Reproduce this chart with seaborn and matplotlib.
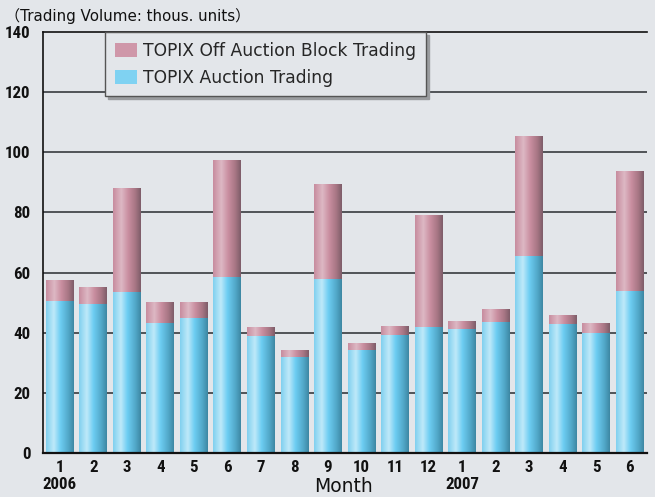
import numpy as np
import pandas as pd
import matplotlib
matplotlib.use("Agg")
import matplotlib.pyplot as plt
import seaborn as sns
from matplotlib.colors import LinearSegmentedColormap
from matplotlib.patches import Patch

# ---- data ----
periods = ["2006-01", "2006-02", "2006-03", "2006-04", "2006-05", "2006-06",
           "2006-07", "2006-08", "2006-09", "2006-10", "2006-11", "2006-12",
           "2007-01", "2007-02", "2007-03", "2007-04", "2007-05", "2007-06"]
month_labels = ["1", "2", "3", "4", "5", "6", "7", "8", "9", "10", "11", "12",
                "1", "2", "3", "4", "5", "6"]
auction = [50.4, 49.6, 53.5, 43.2, 44.9, 58.5, 38.9, 31.8, 57.8, 34.3, 39.2, 41.9,
           41.2, 43.6, 65.5, 42.9, 39.9, 53.9]
block = [7.1, 5.5, 34.5, 7.0, 5.3, 38.8, 3.0, 2.4, 31.6, 2.3, 3.0, 37.2,
         2.7, 4.3, 39.9, 3.0, 3.3, 39.9]
year_labels = {0: "2006", 12: "2007"}
yticks = [0, 20, 40, 60, 80, 100, 120, 140]
series_names = ["TOPIX Off Auction Block Trading", "TOPIX Auction Trading"]

df = pd.DataFrame({"period": periods, "auction": auction, "block": block})
df["total"] = df["auction"] + df["block"]

BG = "#e3e6ea"
TXT = "#111111"
COND = dict(family="Roboto Condensed", fontweight="bold", fontsize=12.2, color=TXT)

sns.set_theme(style="white")
plt.rcParams["font.family"] = ["DejaVu Sans", "Noto Sans CJK JP"]

fig = plt.figure(figsize=(6.55, 4.97), dpi=100, facecolor=BG)
ax = fig.add_axes([0.0656, 0.0885, 0.9215, 0.847])
ax.set_facecolor(BG)

sns.barplot(data=df, x="period", y="total", color="#c98ea0", width=0.83,
            saturation=1, ax=ax, zorder=3)
n_pink = len(ax.patches)
sns.barplot(data=df, x="period", y="auction", color="#74cff2", width=0.83,
            saturation=1, ax=ax, zorder=3)

pink_cmap = LinearSegmentedColormap.from_list(
    "pink", [(0, "#c78c9e"), (0.3, "#ddb8c4"), (0.55, "#c98ea0"), (0.8, "#a77684"),
             (1, "#7d5c69")])
blue_cmap = LinearSegmentedColormap.from_list(
    "blue", [(0, "#80d0ef"), (0.28, "#bee9f9"), (0.52, "#6dcdf2"), (0.8, "#52a8c9"),
             (1, "#3d87a2")])
grad = np.linspace(0, 1, 256).reshape(1, -1)

for i, p in enumerate(ax.patches):
    cmap = pink_cmap if i < n_pink else blue_cmap
    x0, w, y0, h = p.get_x(), p.get_width(), p.get_y(), p.get_height()
    im = ax.imshow(grad, cmap=cmap, aspect="auto", extent=(x0, x0 + w, y0, y0 + h),
                   zorder=p.get_zorder() + (0.1 if i >= n_pink else 0.05),
                   interpolation="bilinear")
    im.set_clip_path(p)
    p.set_facecolor("none")
    p.set_edgecolor("none")

ax.set_xlim(-0.5, len(periods) - 0.5)
ax.set_ylim(0, 140)

# grid
ax.set_yticks(yticks)
for yv in yticks[1:-1]:
    ax.axhline(yv, color="#505357", lw=1.4, zorder=1)
ax.set_yticklabels([str(v) for v in yticks], **COND)
ax.set_xticks(range(len(periods)))
ax.set_xticklabels(month_labels, **COND)
ax.tick_params(axis="both", length=0)
ax.tick_params(axis="y", pad=9)
ax.tick_params(axis="x", pad=5)
ax.set_xlabel("")
ax.set_ylabel("")

ax.spines["right"].set_visible(False)
ax.spines["top"].set_color(TXT)
ax.spines["top"].set_linewidth(1.2)
ax.spines["left"].set_color(TXT)
ax.spines["left"].set_linewidth(1.2)
ax.spines["bottom"].set_color(TXT)
ax.spines["bottom"].set_linewidth(1.6)
for s in ax.spines.values():
    s.set_zorder(5)

# year labels and axis title
for idx, yr in year_labels.items():
    ax.text(idx, -0.074, yr, transform=ax.get_xaxis_transform(), ha="center", va="center",
            **COND)
fig.text(344 / 655, 1 - 487 / 497, "Month", ha="center", va="center", fontsize=13.5,
         color=TXT)
fig.text(5 / 655, 1 - 16 / 497, "（Trading Volume: thous. units）", ha="left", va="center",
         fontsize=10.9, color=TXT)

handles = [Patch(facecolor="#cf97a9", edgecolor="none"),
           Patch(facecolor="#7fd2f2", edgecolor="none")]
leg = ax.legend(handles, series_names, loc="upper left", bbox_to_anchor=(0.103, 1.0),
                frameon=True, fancybox=False, shadow={"color": "#9a9c9f", "alpha": 1},
                fontsize=12.3, handlelength=1.3, handleheight=0.9, handletextpad=0.35,
                borderpad=0.58, labelspacing=0.5, borderaxespad=0)
leg.get_frame().set_facecolor(BG)
leg.get_frame().set_edgecolor("#555555")
leg.get_frame().set_linewidth(1.0)
leg.set_zorder(10)

fig.savefig("out.png", dpi=100, facecolor=BG)
